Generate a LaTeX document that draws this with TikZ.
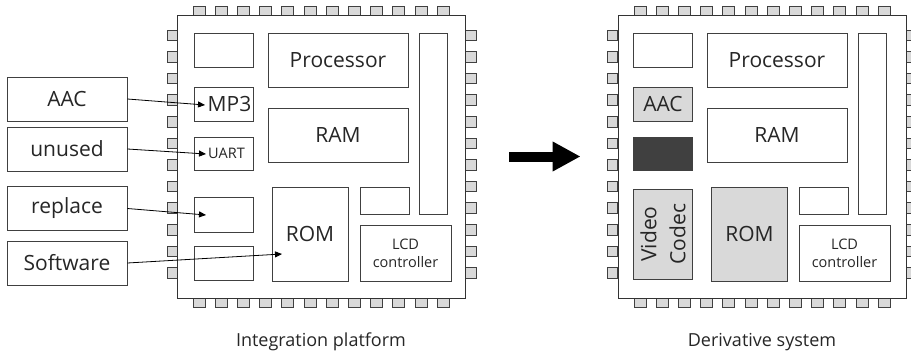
\documentclass[tikz,border=0pt]{standalone}
\usepackage{fontspec}
\setmainfont{Open Sans}
\usetikzlibrary{positioning, arrows.meta, calc}

\definecolor{pingray}{HTML}{D9D9D9}
\definecolor{darkblock}{HTML}{404040}

\tikzset{
    block/.style={draw=black!75, line width=0.8pt, fill=white, inner sep=0pt,
        align=center, text=black!85, font=\fontsize{21}{26}\selectfont},
    smalltext/.style={font=\fontsize{14.5}{18}\selectfont},
    chipbody/.style={draw=black!80, line width=0.9pt, fill=white,
        minimum width=288pt, minimum height=283pt, inner sep=0pt},
    chippin/.style={draw=black!75, line width=0.7pt, fill=pingray},
    tagbox/.style={block, minimum width=120pt, minimum height=44pt},
    feed/.style={draw=black, line width=0.8pt, -{Triangle[length=7pt,width=6pt]}},
    bigarrow/.style={line width=10pt, -{Triangle[length=28pt 0 0,width=28pt 0 0]}},
    caption/.style={text=black!85, font=\fontsize{18}{22}\selectfont}
}

\begin{document}
\begin{tikzpicture}[x=1pt, y=-1pt]
    \useasboundingbox (0,0) rectangle (911,356);

    % ---------------------------------------------------
    % 1. Integration platform
    % ---------------------------------------------------
    \begin{scope}
        % pins
        \foreach \i in {0,...,11} {
            \draw[chippin] ({193+22.2*\i},6) rectangle ++(12,9);
            \draw[chippin] ({193+22.2*\i},298) rectangle ++(12,9);
            \draw[chippin] (167,{30+21.6*\i}) rectangle ++(10,10.5);
            \draw[chippin] (465,{30+21.6*\i}) rectangle ++(11,10.5);
        }
        \node[chipbody] (chipL) at (321,156.5) {};

        \node[block, minimum width=59pt, minimum height=34pt] (topL) at (223.5,50) {};
        \node[block, minimum width=140pt, minimum height=54pt] (procL) at (338,60) {Processor};
        \node[block, minimum width=59pt, minimum height=34pt] (mpL) at (223.5,104) {\hspace{12pt}MP3};
        \node[block, minimum width=140pt, minimum height=54pt] (ramL) at (338,135) {RAM};
        \node[block, smalltext, minimum width=59pt, minimum height=33pt] (uartL) at (223.5,153.5) {\hspace{6pt}UART};
        \node[block, minimum width=28pt, minimum height=181pt] (barL) at (433,123.5) {};
        \node[block, minimum width=49pt, minimum height=27pt] (smallL) at (384.5,200.5) {};
        \node[block, minimum width=76pt, minimum height=94pt] (romL) at (310,234) {ROM};
        \node[block, smalltext, minimum width=91pt, minimum height=56pt] (lcdL) at (405.5,253) {LCD\\controller};
        \node[block, minimum width=59pt, minimum height=35pt] (replL) at (223.5,214.5) {};
        \node[block, minimum width=59pt, minimum height=34pt] (swL) at (223.5,263) {};

        \node[caption] (capL) at (321,342) {Integration platform};
    \end{scope}

    % labels on the left
    \node[tagbox] (aac) at (67,99) {AAC};
    \node[tagbox] (unused) at (67,149) {unused};
    \node[tagbox] (replace) at (67,208.5) {replace};
    \node[tagbox] (software) at (67,263) {Software};

    \coordinate (mpTip) at (205,105);
    \coordinate (uartTip) at (206,154);
    \coordinate (replTip) at (206,215);
    \coordinate (romTip) at (282,254);

    \draw[feed] (aac.east) -- (mpTip);
    \draw[feed] (unused.east) -- (uartTip);
    \draw[feed] (replace.east) -- (replTip);
    \draw[feed] (software.east) -- (romTip);

    % ---------------------------------------------------
    % 2. Derivative system
    % ---------------------------------------------------
    \begin{scope}[xshift=441]
        % pins
        \foreach \i in {0,...,11} {
            \draw[chippin] ({193+22.2*\i},6) rectangle ++(12,9);
            \draw[chippin] ({193+22.2*\i},298) rectangle ++(12,9);
            \draw[chippin] (166,{30+21.6*\i}) rectangle ++(10,10.5);
            \draw[chippin] (465,{30+21.6*\i}) rectangle ++(11,10.5);
        }
        \node[chipbody] (chipR) at (321,156.5) {};

        \node[block, minimum width=59pt, minimum height=34pt] (topR) at (222,50) {};
        \node[block, minimum width=140pt, minimum height=54pt] (procR) at (336,60) {Processor};
        \node[block, fill=pingray, minimum width=59pt, minimum height=34pt] (aacR) at (222,104) {AAC};
        \node[block, minimum width=140pt, minimum height=54pt] (ramR) at (336,135) {RAM};
        \node[block, fill=darkblock, minimum width=59pt, minimum height=33pt] (deadR) at (222,153.5) {};
        \node[block, minimum width=28pt, minimum height=181pt] (barR) at (431,123.5) {};
        \node[block, minimum width=49pt, minimum height=27pt] (smallR) at (382.5,200.5) {};
        \node[block, fill=pingray, minimum width=76pt, minimum height=94pt] (romR) at (308.5,234) {ROM};
        \node[block, smalltext, minimum width=91pt, minimum height=56pt] (lcdR) at (403.5,253) {LCD\\controller};
        \node[block, fill=pingray, rotate=90, font=\fontsize{21}{29}\selectfont,
              minimum width=90pt, minimum height=59pt] (codecR) at (222,234) {Video\\Codec};

        \node[caption] (capR) at (321,342) {Derivative system};
    \end{scope}

    % arrow between the two chips
    \draw[bigarrow, shorten <=44pt, shorten >=37pt] (chipL.east) -- (chipR.west);

\end{tikzpicture}
\end{document}
